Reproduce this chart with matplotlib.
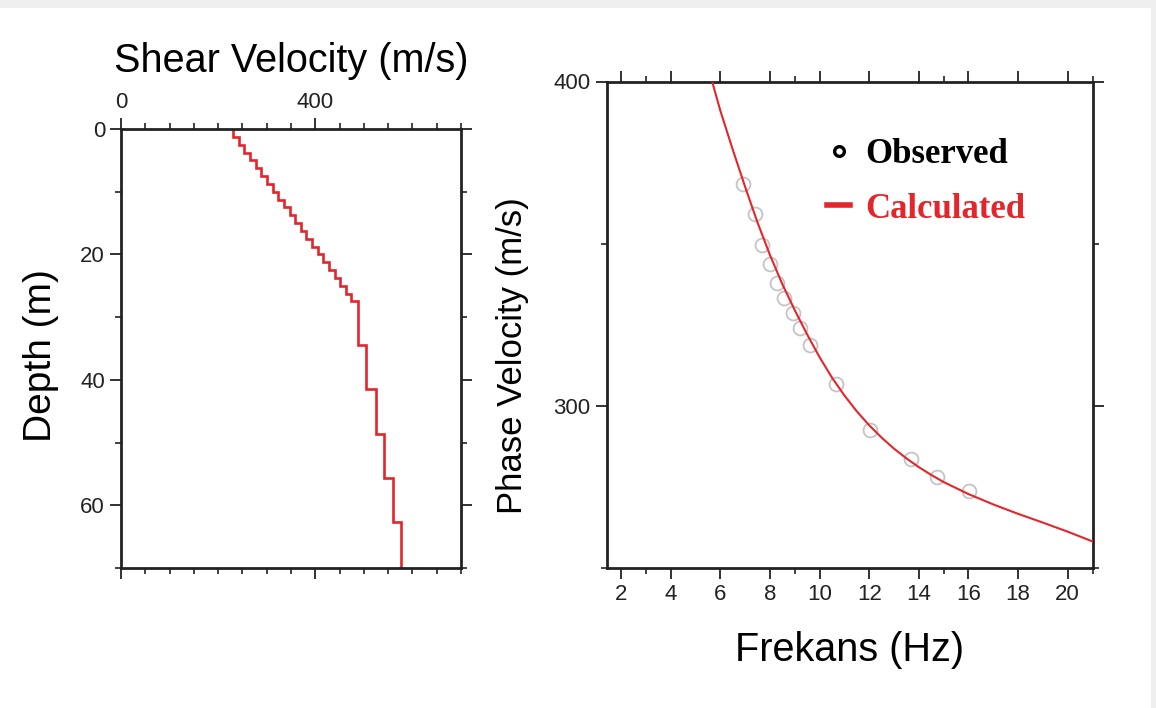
import matplotlib
matplotlib.use("Agg")
import matplotlib.pyplot as plt
from matplotlib.lines import Line2D
from matplotlib.patches import Rectangle
from matplotlib.ticker import FixedLocator

# ---------------- data ----------------
# Shear-velocity profile (layer edges in depth, m) and layer velocities (m/s)
depth_edges = [0, 1.25, 2.5, 3.75, 5.0, 6.25, 7.5, 8.75, 10.0, 11.25, 12.5,
               13.75, 15.0, 16.25, 17.5, 18.75, 20.0, 21.25, 22.5, 23.75,
               25.0, 26.25, 27.4, 34.4, 41.4, 48.6, 55.7, 62.7, 70]
shear_vel = [231, 242, 254, 265, 277, 288, 300, 312, 323, 335, 347, 358,
             370, 381, 393, 405, 416, 428, 440, 451, 463, 474,
             488, 504, 524, 541, 559, 577]

# Observed dispersion points
obs_freq = [6.93, 7.40, 7.67, 8.01, 8.30, 8.58, 8.92, 9.22, 9.62,
            10.67, 12.04, 13.68, 14.73, 16.04]
obs_vel = [368.5, 359.3, 349.5, 343.7, 337.8, 333.4, 328.7, 323.9, 318.8,
           306.8, 292.6, 283.6, 278.1, 273.8]

# Calculated dispersion curve
calc_freq = [5.67, 6.0, 6.5, 7.0, 7.5, 8.0, 8.5, 9.0, 9.5, 10.0, 10.5, 11.0,
             11.5, 12.0, 12.5, 13.0, 13.5, 14.0, 14.5, 15.0, 16.0, 17.0, 18.0,
             19.0, 20.0, 21.0]
calc_vel = [400, 391, 379, 367.5, 356.5, 346.5, 337.5, 329.5, 322, 315,
            308.7, 303.2, 298.3, 294, 290.2, 286.8, 283.8, 281.1, 278.7,
            276.5, 272.8, 269.6, 266.7, 264, 261.2, 258.2]

RED = "#e3262b"
SPINE = "#222222"

fig = plt.figure(figsize=(11.56, 7.08), dpi=100)
fig.patch.set_facecolor("white")
# light grey frame strips of the screenshot
fig.patches.append(Rectangle((0, 1 - 8 / 708), 1, 8 / 708, transform=fig.transFigure,
                             facecolor="#efefef", edgecolor="none", zorder=0))
fig.patches.append(Rectangle((1 - 5 / 1156, 0), 5 / 1156, 1, transform=fig.transFigure,
                             facecolor="#efefef", edgecolor="none", zorder=0))

sans = "Liberation Sans"

# ---------------- left panel ----------------
ax1 = fig.add_axes([121 / 1156, 1 - 568 / 708, 340 / 1156, 439 / 708])
ax1.stairs(shear_vel, depth_edges, orientation="horizontal", baseline=None,
           color=RED, linewidth=1.9)
ax1.set_xlim(0, 700)
ax1.set_ylim(70, 0)
ax1.xaxis.set_major_locator(FixedLocator([0, 400]))
ax1.xaxis.set_minor_locator(FixedLocator(list(range(0, 701, 50))))
ax1.yaxis.set_major_locator(FixedLocator([0, 20, 40, 60]))
ax1.yaxis.set_minor_locator(FixedLocator(list(range(0, 71, 10))))
ax1.tick_params(axis="x", which="both", top=True, bottom=True,
                labeltop=True, labelbottom=False, direction="out")
ax1.tick_params(axis="y", which="both", left=True, right=True,
                labelleft=True, labelright=False, direction="out")
ax1.tick_params(which="major", length=8, width=1.3, labelsize=16, colors=SPINE)
ax1.tick_params(which="minor", length=4, width=1.2, colors=SPINE)
for lab in ax1.get_xticklabels() + ax1.get_yticklabels():
    lab.set_fontfamily(sans)
ax1.set_title("Shear Velocity (m/s)", fontsize=28.5, fontfamily=sans, pad=41)
ax1.set_ylabel("Depth (m)", fontsize=28, fontfamily=sans)
ax1.yaxis.set_label_coords(-0.181, 0.485)
for s in ax1.spines.values():
    s.set_linewidth(2.0)
    s.set_color(SPINE)

# ---------------- right panel ----------------
ax2 = fig.add_axes([606.7 / 1156, 1 - 568 / 708, 485.8 / 1156, 486.5 / 708])
ax2.plot(calc_freq, calc_vel, color=RED, linewidth=1.5, zorder=3)
ax2.plot(obs_freq, obs_vel, linestyle="none", marker="o", markersize=10,
         markerfacecolor="none", markeredgecolor="#c4c4c4",
         markeredgewidth=1.3, zorder=2)
ax2.set_xlim(1.42, 21)
ax2.set_ylim(250, 400)
ax2.xaxis.set_major_locator(FixedLocator(list(range(2, 21, 2))))
ax2.xaxis.set_minor_locator(FixedLocator([3, 9, 15, 21]))
ax2.yaxis.set_major_locator(FixedLocator([300, 400]))
ax2.yaxis.set_minor_locator(FixedLocator([250, 350]))
ax2.tick_params(axis="x", which="both", top=True, bottom=True,
                labeltop=False, labelbottom=True, direction="out")
ax2.tick_params(axis="y", which="both", left=True, right=True,
                labelleft=True, labelright=False, direction="out")
ax2.tick_params(which="major", length=8, width=1.3, labelsize=16, colors=SPINE)
ax2.tick_params(which="minor", length=4, width=1.2, colors=SPINE)
for lab in ax2.get_xticklabels() + ax2.get_yticklabels():
    lab.set_fontfamily(sans)
ax2.set_xlabel("Frekans (Hz)", fontsize=28.5, fontfamily=sans, labelpad=19)
ax2.set_ylabel("Phase Velocity (m/s)", fontsize=25, fontfamily=sans)
ax2.yaxis.set_label_coords(-0.159, 0.436)
for s in ax2.spines.values():
    s.set_linewidth(2.0)
    s.set_color(SPINE)

handles = [
    Line2D([], [], linestyle="none", marker="o", markersize=7,
           markerfacecolor="none", markeredgecolor="black", markeredgewidth=2.4),
    Line2D([], [], color=RED, linewidth=4.0),
]
leg = ax2.legend(handles, ["Observed", "Calculated"], loc="upper left",
                 bbox_to_anchor=(0.39, 0.948), frameon=False,
                 prop={"family": "Liberation Serif", "weight": "bold", "size": 25},
                 handlelength=0.65, handletextpad=0.45, labelspacing=0.62)
leg.get_texts()[0].set_color("black")
leg.get_texts()[1].set_color(RED)

fig.savefig("out.png", dpi=100, facecolor=fig.get_facecolor())
